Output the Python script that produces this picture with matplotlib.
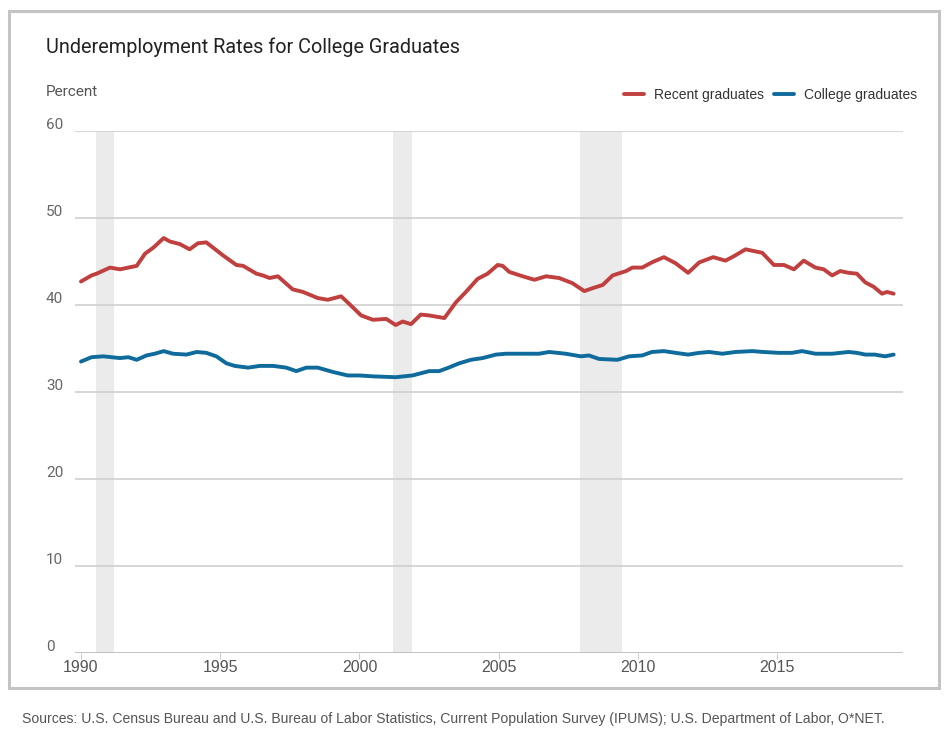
import matplotlib
matplotlib.use("Agg")
import matplotlib.pyplot as plt
from matplotlib.patches import Rectangle

# ---- data ----
recent_years = [1990.0, 1990.38, 1990.56, 1991.04, 1991.4, 1992.0, 1992.3, 1992.6, 1992.97, 1993.19,
                1993.55, 1993.9, 1994.2, 1994.5, 1995.1, 1995.58, 1995.82, 1996.3, 1996.53, 1996.77,
                1997.07, 1997.6, 1997.97, 1998.5, 1998.86, 1999.34, 1999.64, 2000.06, 2000.48, 2000.96,
                2001.3, 2001.55, 2001.85, 2002.2, 2002.5, 2003.05, 2003.46, 2003.82, 2004.24, 2004.6,
                2004.96, 2005.14, 2005.38, 2005.86, 2006.28, 2006.7, 2007.17, 2007.65, 2008.07, 2008.43,
                2008.73, 2009.09, 2009.57, 2009.8, 2010.15, 2010.5, 2010.93, 2011.35, 2011.8, 2012.2,
                2012.7, 2013.14, 2013.44, 2013.86, 2014.16, 2014.46, 2014.88, 2015.24, 2015.6, 2015.95,
                2016.37, 2016.67, 2016.97, 2017.26, 2017.56, 2017.86, 2018.16, 2018.46, 2018.76, 2018.94,
                2019.18]
recent_values = [42.7, 43.4, 43.6, 44.3, 44.1, 44.5, 45.9, 46.6, 47.7, 47.3,
                 47.0, 46.4, 47.1, 47.2, 45.7, 44.6, 44.5, 43.6, 43.4, 43.1,
                 43.3, 41.8, 41.5, 40.8, 40.6, 41.0, 40.1, 38.8, 38.3, 38.4,
                 37.7, 38.1, 37.8, 38.9, 38.8, 38.5, 40.3, 41.5, 43.0, 43.6,
                 44.6, 44.5, 43.8, 43.3, 42.9, 43.3, 43.1, 42.5, 41.6, 42.0,
                 42.3, 43.4, 43.9, 44.3, 44.3, 44.9, 45.5, 44.8, 43.7, 44.9,
                 45.5, 45.1, 45.6, 46.4, 46.2, 46.0, 44.6, 44.6, 44.1, 45.1,
                 44.3, 44.1, 43.4, 43.9, 43.7, 43.6, 42.6, 42.1, 41.3, 41.5,
                 41.3]

college_years = [1990.0, 1990.38, 1990.8, 1991.4, 1991.7, 1992.0, 1992.35, 1992.65, 1992.97, 1993.3,
                 1993.79, 1994.15, 1994.5, 1994.86, 1995.22, 1995.52, 1996.0, 1996.42, 1996.9, 1997.37,
                 1997.73, 1998.09, 1998.5, 1999.05, 1999.58, 2000.0, 2000.48, 2001.3, 2001.9, 2002.5,
                 2002.86, 2003.2, 2003.58, 2004.0, 2004.42, 2004.9, 2005.26, 2005.97, 2006.45, 2006.81,
                 2007.4, 2007.95, 2008.24, 2008.6, 2009.26, 2009.68, 2010.15, 2010.5, 2010.93, 2011.35,
                 2011.8, 2012.2, 2012.55, 2013.03, 2013.5, 2014.1, 2014.5, 2015.05, 2015.53, 2015.89,
                 2016.37, 2016.97, 2017.56, 2017.86, 2018.16, 2018.5, 2018.87, 2019.18]
college_values = [33.5, 34.0, 34.1, 33.9, 34.0, 33.7, 34.2, 34.4, 34.7, 34.4,
                  34.3, 34.6, 34.5, 34.1, 33.3, 33.0, 32.8, 33.0, 33.0, 32.8,
                  32.4, 32.8, 32.8, 32.3, 31.9, 31.9, 31.8, 31.7, 31.9, 32.4,
                  32.4, 32.8, 33.3, 33.7, 33.9, 34.3, 34.4, 34.4, 34.4, 34.6,
                  34.4, 34.1, 34.2, 33.8, 33.7, 34.1, 34.2, 34.6, 34.7, 34.5,
                  34.3, 34.5, 34.6, 34.4, 34.6, 34.7, 34.6, 34.5, 34.5, 34.7,
                  34.4, 34.4, 34.6, 34.5, 34.3, 34.3, 34.1, 34.3]

recessions = [(1990.54, 1991.2), (2001.2, 2001.9), (2007.92, 2009.42)]
y_ticks = [0, 10, 20, 30, 40, 50, 60]
x_ticks = [1990, 1995, 2000, 2005, 2010, 2015]
series_labels = ["Recent graduates", "College graduates"]

title = "Underemployment Rates for College Graduates"
source = ("Sources: U.S. Census Bureau and U.S. Bureau of Labor Statistics, Current Population "
          "Survey (IPUMS); U.S. Department of Labor, O*NET.")

RED = "#c0403f"
BLUE = "#0e6b9c"

W, H = 950, 736
fig = plt.figure(figsize=(W / 100, H / 100), dpi=100)

# panel border
fig.patches.append(Rectangle((9 / W, 1 - 688 / H), 930 / W, 677 / H, transform=fig.transFigure,
                             fill=False, edgecolor="#c4c4c4", linewidth=2.2))

ax_l, ax_r, ax_t, ax_b = 75, 903, 131, 653
ax = fig.add_axes([ax_l / W, 1 - ax_b / H, (ax_r - ax_l) / W, (ax_b - ax_t) / H])
x0 = 1990 - (81 - ax_l) / 27.85
x1 = 1990 + (ax_r - 81) / 27.85
ax.set_xlim(x0, x1)
ax.set_ylim(0, 60)

for a, b in recessions:
    ax.axvspan(a, b, color="#ebebeb", lw=0, zorder=0)

for v in y_ticks[1:]:
    ax.axhline(v, color="#cccccc", lw=1.1, zorder=1)
ax.axhline(0, color="#bdbdbd", lw=1.3, zorder=1)

ax.plot(recent_years, recent_values, color=RED, lw=2.8, solid_capstyle="round",
        solid_joinstyle="round", zorder=3, label=series_labels[0])
ax.plot(college_years, college_values, color=BLUE, lw=2.8, solid_capstyle="round",
        solid_joinstyle="round", zorder=3, label=series_labels[1])

for s in ax.spines.values():
    s.set_visible(False)
ax.set_yticks([])
ax.set_xticks(x_ticks)
ax.set_xticklabels([str(t) for t in x_ticks], fontfamily="Liberation Sans", fontsize=11.5, color="#555555")
ax.tick_params(axis="x", length=4, width=0.8, color="#cccccc", pad=1)

# y labels, sitting just above their grid lines
for v in y_ticks:
    ax.text(-29 / (ax_r - ax_l), v + 0.25, str(v), transform=ax.get_yaxis_transform(),
            fontfamily="Roboto", fontsize=11, color="#666666", ha="left", va="baseline")

fig.text(46 / W, 1 - 47 / H, title, fontfamily="Roboto", fontsize=14.3, color="#222222",
         ha="left", va="center")
fig.text(46 / W, 1 - 92 / H, "Percent", fontfamily="Roboto", fontsize=11, color="#555555",
         ha="left", va="center")

leg = ax.legend(loc="lower right", bbox_to_anchor=(917 / W, 1 - 102 / H),
                bbox_transform=fig.transFigure, ncol=2, frameon=False,
                prop={"family": "Liberation Sans", "size": 10}, handlelength=1.45,
                handletextpad=0.7, columnspacing=0.75, borderaxespad=0, borderpad=0)
for t in leg.get_texts():
    t.set_color("#333333")

fig.text(22 / W, 1 - 719 / H, source, fontfamily="Liberation Sans", fontsize=10.1, color="#555555",
         ha="left", va="center")

fig.savefig("out.png", dpi=100, facecolor="white")
